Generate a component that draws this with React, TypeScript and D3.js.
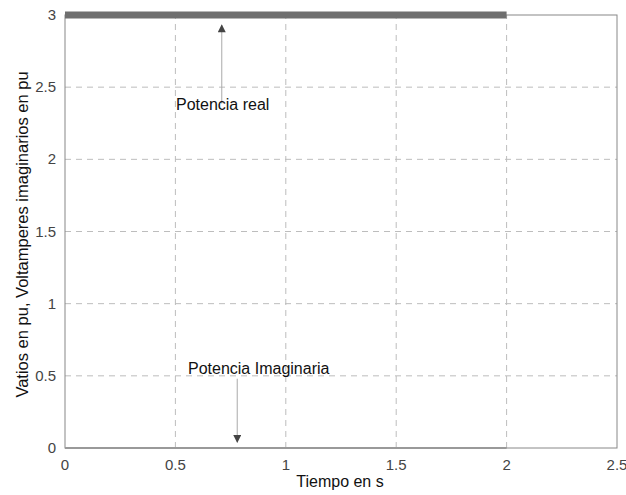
import React from "react";
import * as d3 from "d3";

const time = [0, 0.5, 1, 1.5, 2];
const realPower = [3, 3, 3, 3, 3];
const imagPower = [0, 0, 0, 0, 0];
const xTicks = [0, 0.5, 1, 1.5, 2, 2.5];
const yTicks = [0, 0.5, 1, 1.5, 2, 2.5, 3];
const xLabel = "Tiempo en s";
const yLabel = "Vatios en pu, Voltamperes imaginarios en pu";
const annReal = { text: "Potencia real", x: 0.71, y: 2.4, tipY: 2.93 };
const annImag = { text: "Potencia Imaginaria", x: 0.78, y: 0.48, tipY: 0.04 };

export default function App() {
  const W = 626, H = 495;
  const m = { l: 65, r: 9, t: 15, b: 47 };
  const x = d3.scaleLinear().domain([0, 2.5]).range([m.l, W - m.r]);
  const y = d3.scaleLinear().domain([0, 3]).range([H - m.b, m.t]);
  const line = d3.line<number>().x((_, i) => x(time[i])).y((d) => y(d));
  const font = "Liberation Sans, Arial, sans-serif";
  const gridC = "#bdbdbd";
  return (
    <svg width={W} height={H} style={{ position: "absolute", left: 0, top: 0, background: "#fff" }}>
      <defs>
        <marker id="ah" viewBox="0 0 10 10" refX="9" refY="5" markerWidth="10" markerHeight="8" markerUnits="userSpaceOnUse" orient="auto">
          <path d="M0,0 L10,5 L0,10 z" fill="#444" />
        </marker>
      </defs>
      {xTicks.slice(1, -1).map((t) => (
        <line key={"gx" + t} x1={x(t)} x2={x(t)} y1={y(0)} y2={y(3)} stroke={gridC} strokeDasharray="6,5" strokeWidth={1} />
      ))}
      {yTicks.slice(1, -1).map((t) => (
        <line key={"gy" + t} x1={x(0)} x2={x(2.5)} y1={y(t)} y2={y(t)} stroke={gridC} strokeDasharray="6,5" strokeWidth={1} />
      ))}
      <rect x={x(0)} y={y(3)} width={x(2.5) - x(0)} height={y(0) - y(3)} fill="none" stroke="#888" strokeWidth={1} />
      <path d={line(imagPower) || ""} fill="none" stroke="#999" strokeWidth={2} />
      <path d={line(realPower) || ""} fill="none" stroke="#6f6f6f" strokeWidth={7} />
      {xTicks.map((t) => (
        <text key={"tx" + t} x={x(t)} y={y(0) + 22} textAnchor="middle" fontFamily={font} fontSize={15} fill="#444">{t}</text>
      ))}
      {yTicks.map((t) => (
        <text key={"ty" + t} x={x(0) - 9} y={y(t) + 5} textAnchor="end" fontFamily={font} fontSize={15} fill="#444">{t}</text>
      ))}
      <text x={340} y={H - 8} textAnchor="middle" fontFamily={font} fontSize={16} fill="#111">{xLabel}</text>
      <text transform={`translate(28,${(y(0) + y(3)) / 2 + 3}) rotate(-90)`} textAnchor="middle" fontFamily={font} fontSize={16.5} fill="#111">{yLabel}</text>
      <line x1={x(annReal.x)} x2={x(annReal.x)} y1={y(annReal.y) + 2} y2={y(annReal.tipY)} stroke="#aaa" strokeWidth={1} markerEnd="url(#ah)" />
      <text x={176} y={y(annReal.y) + 8} fontFamily={font} fontSize={16} fill="#111">{annReal.text}</text>
      <line x1={x(annImag.x)} x2={x(annImag.x)} y1={y(annImag.y)} y2={y(annImag.tipY)} stroke="#aaa" strokeWidth={1} markerEnd="url(#ah)" />
      <text x={188} y={y(annImag.y) - 5} fontFamily={font} fontSize={16} fill="#111">{annImag.text}</text>
    </svg>
  );
}
